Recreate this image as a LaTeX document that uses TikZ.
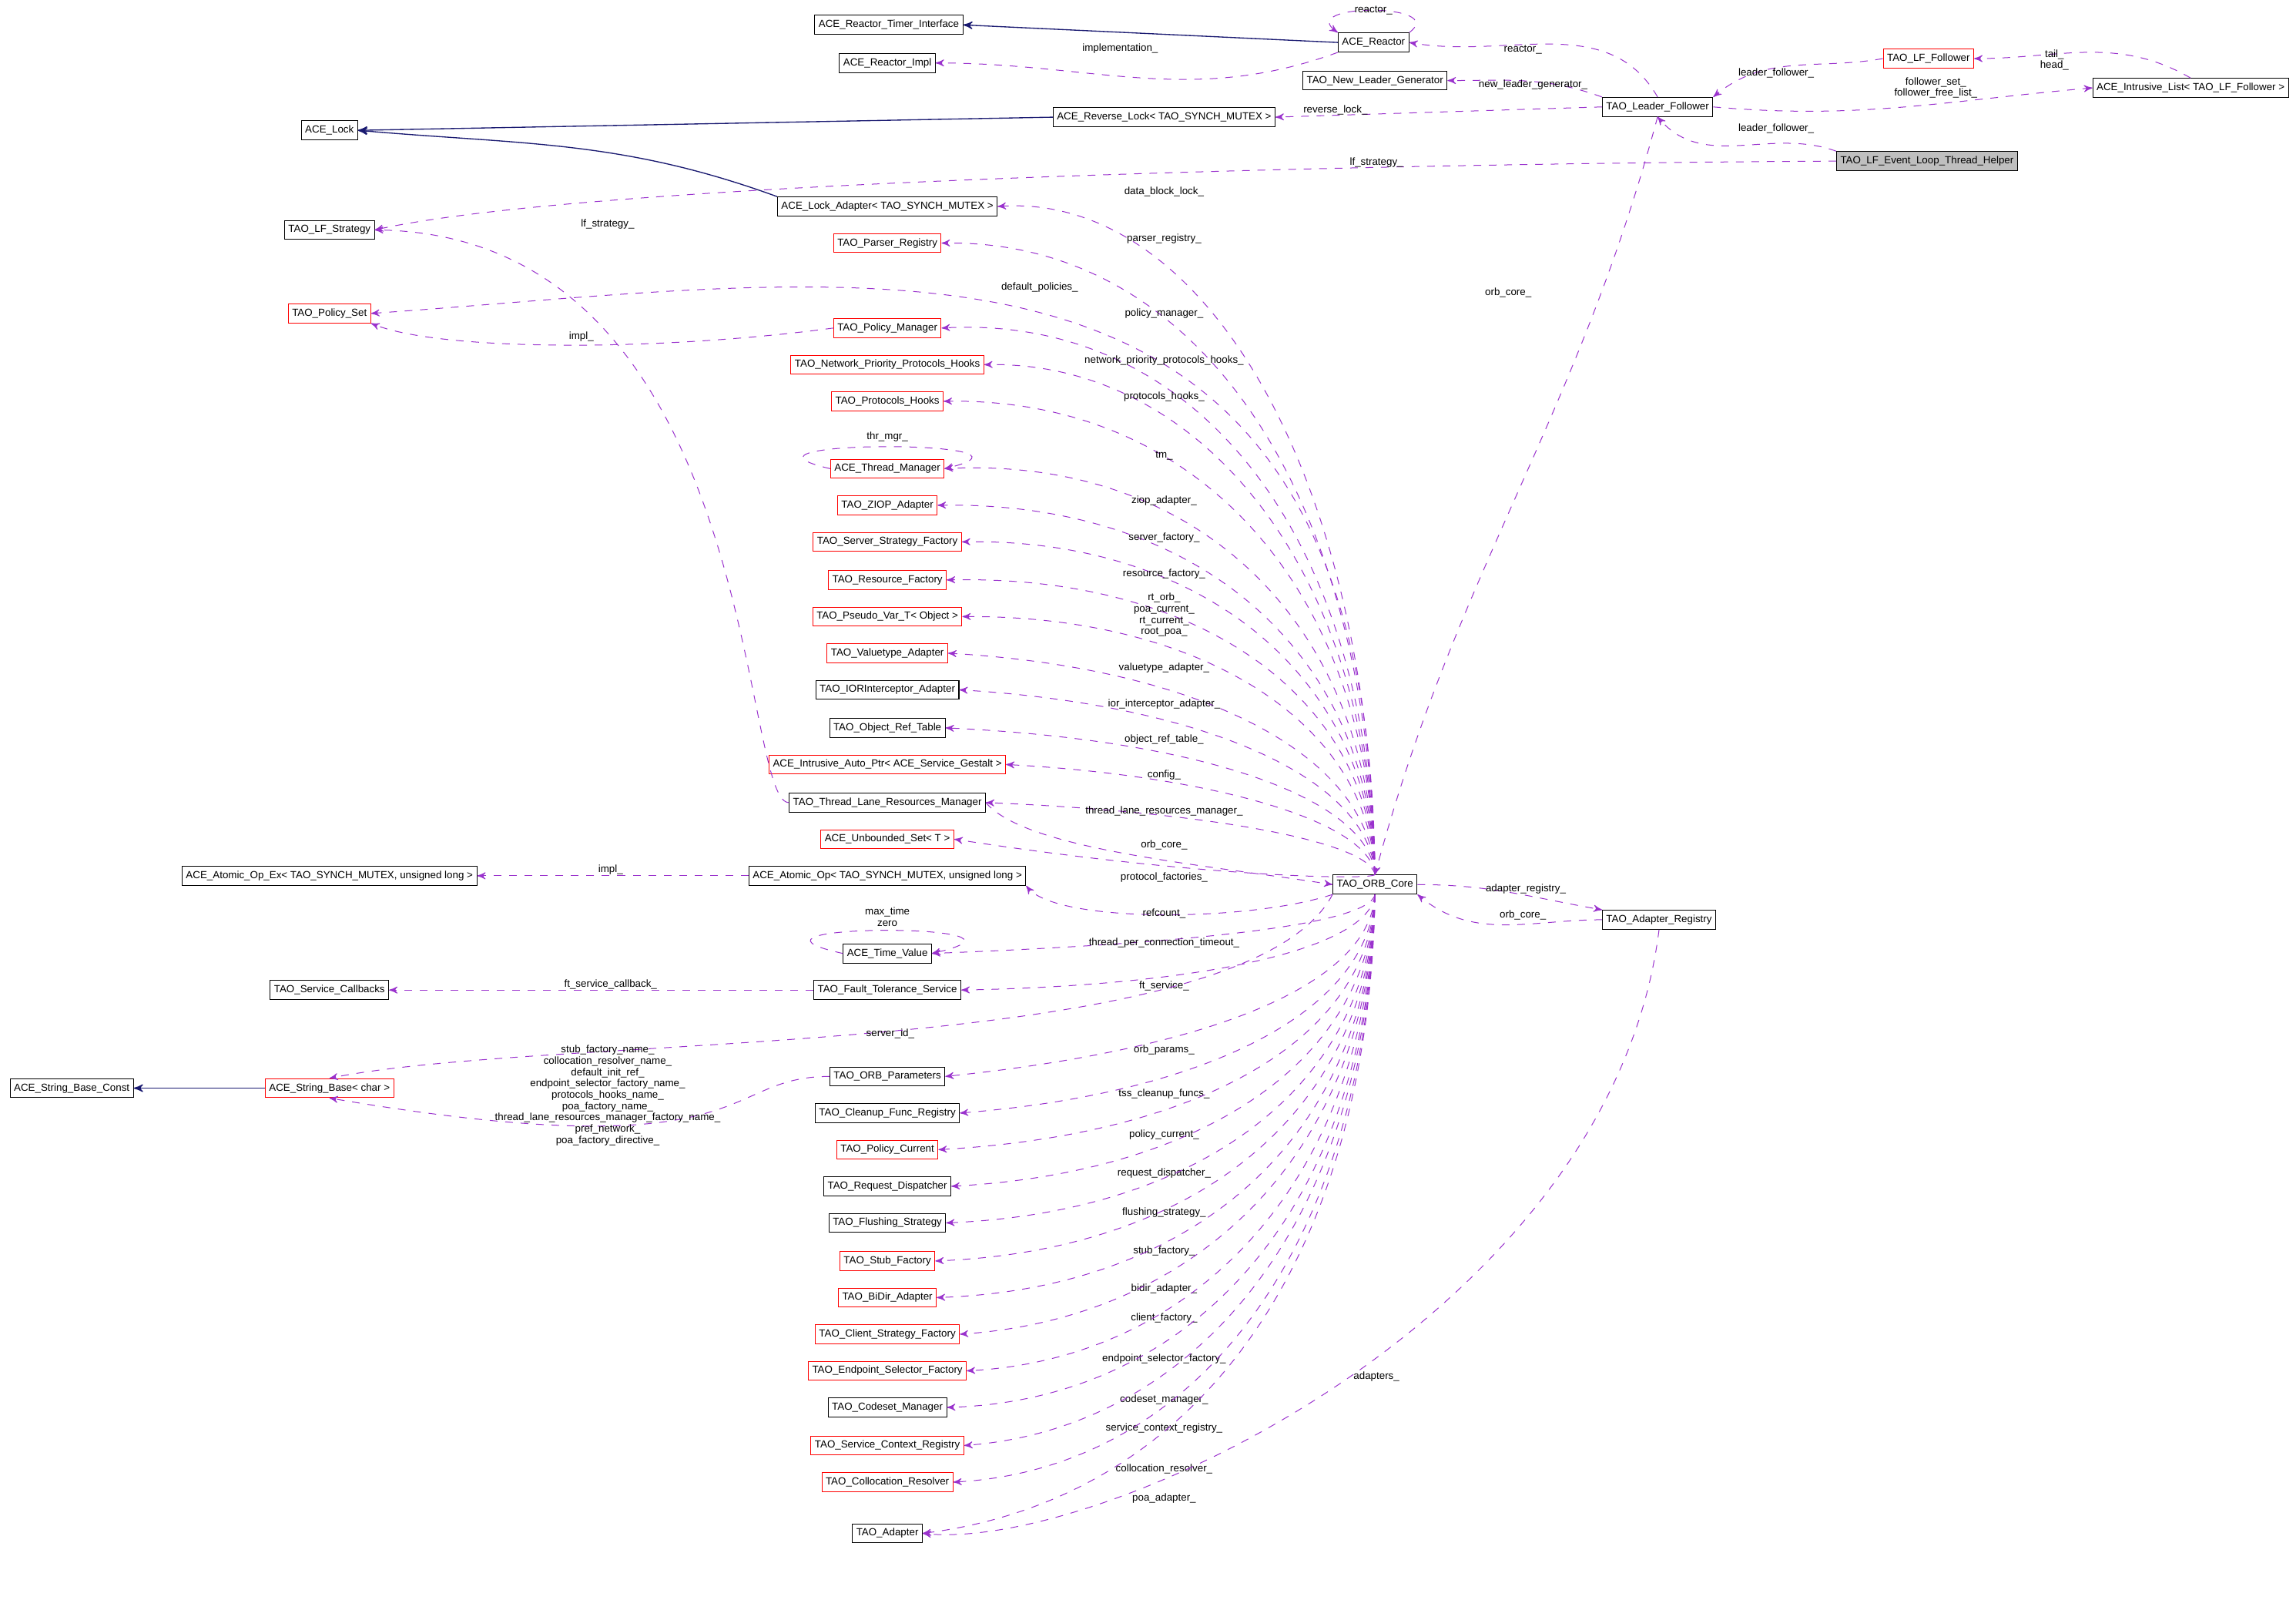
\documentclass[tikz,border=0pt]{standalone}
\usepackage{fontspec}
\setmainfont{Liberation Sans}
\usetikzlibrary{arrows,positioning}
\definecolor{mpurple}{HTML}{9A32CD}
\definecolor{inhnavy}{HTML}{191970}
\definecolor{helpergrey}{HTML}{BFBFBF}
\tikzset{
  cls/.style={draw,line width=0.3pt,inner sep=1.5pt,minimum height=0.26cm,font=\fontsize{4}{4.5}\selectfont},
  redcls/.style={cls,draw=red},
  uses/.style={->,>=stealth',dashed,draw=mpurple,line width=0.3pt},
  inh/.style={->,>=stealth',draw=inhnavy,line width=0.4pt},
  lbl/.style={font=\fontsize{4}{4.4}\selectfont,align=center,inner sep=0pt}
}
\begin{document}
\begin{tikzpicture}[x=0.02cm,y=-0.02cm]
\useasboundingbox (0,0) rectangle (1568,1092);
% top part
\node[cls] (rti) at (607,17) {ACE\_Reactor\_Timer\_Interface};
\node[cls] (re) at (938,29) {ACE\_Reactor};
\node[cls] (rim) at (606,43) {ACE\_Reactor\_Impl};
\node[cls] (nlg) at (939,55) {TAO\_New\_Leader\_Generator};
\node[redcls] (lff) at (1317,40) {TAO\_LF\_Follower};
\node[cls] (il) at (1496,60) {ACE\_Intrusive\_List< TAO\_LF\_Follower >};
\node[cls] (lk) at (225,89) {ACE\_Lock};
\node[cls] (rl) at (795,80) {ACE\_Reverse\_Lock< TAO\_SYNCH\_MUTEX >};
\node[cls] (lf) at (1132,73) {TAO\_Leader\_Follower};
\node[cls,fill=helpergrey] (hlp) at (1316,110) {TAO\_LF\_Event\_Loop\_Thread\_Helper};
\node[cls] (lfs) at (225,157) {TAO\_LF\_Strategy};
\node[redcls] (ps) at (225,214) {TAO\_Policy\_Set};
\node[cls] (aoe) at (225,598) {ACE\_Atomic\_Op\_Ex< TAO\_SYNCH\_MUTEX, unsigned long >};
\node[cls] (sc) at (225,676) {TAO\_Service\_Callbacks};
\node[cls] (sbc) at (49,743) {ACE\_String\_Base\_Const};
\node[redcls] (sb) at (225,743) {ACE\_String\_Base< char >};
\node[cls] (core) at (939,604) {TAO\_ORB\_Core};
\node[cls] (ar) at (1133,628) {TAO\_Adapter\_Registry};
% middle column
\node[cls] (la) at (606,141) {ACE\_Lock\_Adapter< TAO\_SYNCH\_MUTEX >};
\node[redcls] (pr) at (606,166) {TAO\_Parser\_Registry};
\node[redcls] (pm) at (606,224) {TAO\_Policy\_Manager};
\node[redcls] (nph) at (606,249) {TAO\_Network\_Priority\_Protocols\_Hooks};
\node[redcls] (ph) at (606,274) {TAO\_Protocols\_Hooks};
\node[redcls] (tm) at (606,320) {ACE\_Thread\_Manager};
\node[redcls] (zi) at (606,345) {TAO\_ZIOP\_Adapter};
\node[redcls] (ssf) at (606,370) {TAO\_Server\_Strategy\_Factory};
\node[redcls] (rf) at (606,396) {TAO\_Resource\_Factory};
\node[redcls] (pv) at (606,421) {TAO\_Pseudo\_Var\_T< Object >};
\node[redcls] (va) at (606,446) {TAO\_Valuetype\_Adapter};
\node[cls] (ior) at (606,471) {TAO\_IORInterceptor\_Adapter};
\node[cls] (ort) at (606,497) {TAO\_Object\_Ref\_Table};
\node[redcls] (cfg) at (606,522) {ACE\_Intrusive\_Auto\_Ptr< ACE\_Service\_Gestalt >};
\node[cls] (tlr) at (606,548) {TAO\_Thread\_Lane\_Resources\_Manager};
\node[redcls] (us) at (606,573) {ACE\_Unbounded\_Set< T >};
\node[cls] (ao) at (606,598) {ACE\_Atomic\_Op< TAO\_SYNCH\_MUTEX, unsigned long >};
\node[cls] (tv) at (606,651) {ACE\_Time\_Value};
\node[cls] (fts) at (606,676) {TAO\_Fault\_Tolerance\_Service};
\node[cls] (op) at (606,735) {TAO\_ORB\_Parameters};
\node[cls] (cfr) at (606,760) {TAO\_Cleanup\_Func\_Registry};
\node[redcls] (pc) at (606,785) {TAO\_Policy\_Current};
\node[cls] (rd) at (606,810) {TAO\_Request\_Dispatcher};
\node[cls] (fs) at (606,835) {TAO\_Flushing\_Strategy};
\node[redcls] (sf) at (606,861) {TAO\_Stub\_Factory};
\node[redcls] (ba) at (606,886) {TAO\_BiDir\_Adapter};
\node[redcls] (csf) at (606,911) {TAO\_Client\_Strategy\_Factory};
\node[redcls] (esf) at (606,936) {TAO\_Endpoint\_Selector\_Factory};
\node[cls] (cm) at (606,961) {TAO\_Codeset\_Manager};
\node[redcls] (scr) at (606,987) {TAO\_Service\_Context\_Registry};
\node[redcls] (cr) at (606,1012) {TAO\_Collocation\_Resolver};
\node[cls] (ad) at (606,1047) {TAO\_Adapter};

% inheritance
\draw[inh] (re.west) -- (rti.east);
\draw[inh] (rl.west) -- (lk.east);
\draw[inh] (la.north west) to[out=160,in=-5] (lk.east);
\draw[inh] (sb.west) -- (sbc.east);

% uses: reactor and leader/follower
\draw[uses] (re.north east) .. controls (990,2) and (885,2) .. (re.north west);
\node[lbl] (l1) at (938,7) {reactor\_};
\draw[uses] (re.south west) to[out=-160,in=0] (rim.east);
\node[lbl] (l2) at (765,33) {implementation\_};
\draw[uses] (lf.north) to[out=120,in=-10] (re.east);
\node[lbl] (l3) at (1040,34) {reactor\_};
\draw[uses] (lf.north west) to[out=160,in=0] (nlg.east);
\node[lbl] (l4) at (1047,58) {new\_leader\_generator\_};
\draw[uses] (lf.west) -- (rl.east);
\node[lbl] (l5) at (912,75) {reverse\_lock\_};
\draw[uses] (lff.west) to[out=190,in=40] (lf.north east);
\node[lbl] (l6) at (1213,50) {leader\_follower\_};
\draw[uses] (lf.east) to[out=-5,in=185] (il.west);
\node[lbl] (l7) at (1322,60) {follower\_set\_\\follower\_free\_list\_};
\draw[uses] (il.north) to[out=150,in=0] (lff.east);
\node[lbl] (l8) at (1403,41) {tail\_\\head\_};
\draw[uses] (hlp.north west) to[out=160,in=-50] (lf.south);
\node[lbl] (l9) at (1213,88) {leader\_follower\_};
\draw[uses] (hlp.west) .. controls (900,112) and (400,125) .. (lfs.east);
\node[lbl] (l10) at (940,111) {lf\_strategy\_};
\draw[uses] (lf.south) to[out=-105,in=75] (core.north);
\node[lbl] (l11) at (1030,200) {orb\_core\_};
\draw[uses] (tlr.west) .. controls (505,548) and (520,160) .. (lfs.east);
\node[lbl] (l12) at (415,153) {lf\_strategy\_};
\draw[uses] (pm.west) .. controls (450,240) and (300,240) .. (ps.south east);
\node[lbl] (l13) at (397,230) {impl\_};
\draw[uses] (core.north) .. controls (935,120) and (600,190) .. (ps.east);
\node[lbl] (l14) at (710,196) {default\_policies\_};
\draw[uses] (tm.west) .. controls (480,300) and (730,300) .. (tm.east);
\node[lbl] (l15) at (606,298) {thr\_mgr\_};
\draw[uses] (tv.west) .. controls (480,630) and (730,630) .. (tv.east);
\node[lbl] (l16) at (606,626) {max\_time\\zero};

% uses from the ORB core
\foreach \t/\l/\ly in {la/data\_block\_lock\_/131, pr/parser\_registry\_/163,
    pm/policy\_manager\_/214, nph/network\_priority\_protocols\_hooks\_/246,
    ph/protocols\_hooks\_/271, tm/tm\_/311, zi/ziop\_adapter\_/342,
    ssf/server\_factory\_/367, rf/resource\_factory\_/392,
    pv/{rt\_orb\_\\poa\_current\_\\rt\_current\_\\root\_poa\_}/420,
    va/valuetype\_adapter\_/456, ior/ior\_interceptor\_adapter\_/481,
    ort/object\_ref\_table\_/505, cfg/config\_/529,
    tlr/thread\_lane\_resources\_manager\_/554, us/protocol\_factories\_/599}
{
  \pgfmathsetmacro{\cy}{\ly+0.4*(604-\ly)}
  \draw[uses] (core.north) .. controls (935,\cy) and (820,\ly) .. (\t.east);
  \node[lbl] at (795,\ly) {\l};
}
\foreach \t/\l/\ly in {tv/thread\_per\_connection\_timeout\_/644,
    fts/ft\_service\_/673, op/orb\_params\_/717, cfr/tss\_cleanup\_funcs\_/747,
    pc/policy\_current\_/775, rd/request\_dispatcher\_/801,
    fs/flushing\_strategy\_/828, sf/stub\_factory\_/854, ba/bidir\_adapter\_/880,
    csf/client\_factory\_/900, esf/endpoint\_selector\_factory\_/928,
    cm/codeset\_manager\_/956, scr/service\_context\_registry\_/975,
    cr/collocation\_resolver\_/1003, ad/poa\_adapter\_/1023}
{
  \pgfmathsetmacro{\cy}{\ly-0.4*(\ly-611)}
  \draw[uses] (core.south) .. controls (935,\cy) and (820,\ly) .. (\t.east);
  \node[lbl] at (795,\ly) {\l};
}
\draw[uses] (tlr.east) .. controls (700,580) and (820,590) .. (core.west);
\node[lbl] (l17) at (795,577) {orb\_core\_};
\draw[uses] (core.south west) .. controls (850,630) and (720,630) .. (ao.south east);
\node[lbl] (l18) at (795,624) {refcount\_};
\draw[uses] (ao.west) -- (aoe.east);
\node[lbl] (l19) at (417,594) {impl\_};
\draw[uses] (fts.west) -- (sc.east);
\node[lbl] (l20) at (417,672) {ft\_service\_callback\_};
\draw[uses] (core.south west) .. controls (850,725) and (380,705) .. (sb.north);
\node[lbl] (l21) at (608,706) {server\_id\_};
\draw[uses] (op.west) .. controls (490,735) and (520,800) .. (sb.south);
\node[lbl] (l22) at (415,748) {stub\_factory\_name\_\\collocation\_resolver\_name\_\\default\_init\_ref\_\\endpoint\_selector\_factory\_name\_\\protocols\_hooks\_name\_\\poa\_factory\_name\_\\thread\_lane\_resources\_manager\_factory\_name\_\\pref\_network\_\\poa\_factory\_directive\_};
\draw[uses] (core.east) to[out=0,in=170] (ar.north west);
\node[lbl] (l23) at (1042,607) {adapter\_registry\_};
\draw[uses] (ar.west) to[out=180,in=-40] (core.south east);
\node[lbl] (l24) at (1040,625) {orb\_core\_};
\draw[uses] (ar.south) .. controls (1100,900) and (750,1060) .. (ad.east);
\node[lbl] (l25) at (940,940) {adapters\_};
\end{tikzpicture}
\end{document}
